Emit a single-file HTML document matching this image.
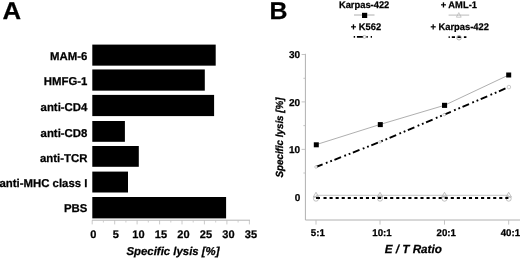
<!DOCTYPE html>
<html>
<head>
<meta charset="utf-8">
<title>Figure</title>
<style>
html,body{margin:0;padding:0;background:#fff;}
body{width:520px;height:259px;overflow:hidden;}
svg{display:block;will-change:transform;filter:blur(0.35px);}
text{font-family:"Liberation Sans",sans-serif;font-weight:bold;fill:#000;stroke:#000;stroke-width:0.25px;text-rendering:geometricPrecision;}
.pl{font-size:24.3px;}
.cat{font-size:11.4px;text-anchor:end;}
.tk{font-size:9.7px;text-anchor:middle;}
.tka{font-size:11px;text-anchor:middle;}
.tke{font-size:10px;text-anchor:end;}
.ax{font-size:11.4px;font-style:italic;text-anchor:middle;}
.lg{font-size:9.3px;text-anchor:middle;}
</style>
</head>
<body>
<svg width="520" height="259" viewBox="0 0 520 259">
<rect width="520" height="259" fill="#fff"/>
<!-- Panel A -->
<text class="pl" transform="translate(2.4 19.1) scale(1.06 1)">A</text>
<g fill="#000">
<rect x="92.3" y="44.60" width="123.4" height="21.05"/>
<rect x="92.3" y="69.45" width="112.5" height="21.20"/>
<rect x="92.3" y="94.90" width="121.8" height="21.20"/>
<rect x="92.3" y="121.00" width="32.6" height="20.80"/>
<rect x="92.3" y="146.00" width="46.5" height="20.80"/>
<rect x="92.3" y="171.60" width="35.7" height="20.90"/>
<rect x="92.3" y="197.00" width="133.8" height="21.40"/>
</g>
<text class="cat" x="87.4" y="60.1">MAM-6</text>
<text class="cat" x="87.4" y="85.4">HMFG-1</text>
<text class="cat" x="87.4" y="111.2">anti-CD4</text>
<text class="cat" x="87.4" y="136.6">anti-CD8</text>
<text class="cat" x="87.4" y="161.5">anti-TCR</text>
<text class="cat" x="87.4" y="186.6">anti-MHC class I</text>
<text class="cat" x="87.4" y="212">PBS</text>
<g fill="none">
<path d="M92 220.2H250" stroke="#b4b4b4" stroke-width="1"/>
<path d="M92.2 220.2v4.2 M114.7 220.2v4.2 M137.1 220.2v4.2 M159.6 220.2v4.2 M182.0 220.2v4.2 M204.4 220.2v4.2 M226.9 220.2v4.2 M249.4 220.2v4.2" stroke="#bcbcbc" stroke-width="0.8"/>
<path d="M103.4 220.2v2.3 M125.9 220.2v2.3 M148.3 220.2v2.3 M170.8 220.2v2.3 M193.2 220.2v2.3 M215.7 220.2v2.3 M238.1 220.2v2.3" stroke="#c4c4c4" stroke-width="0.8"/>
</g>
<text class="tka" x="93.4" y="238.4">0</text>
<text class="tka" x="115.9" y="238.4">5</text>
<text class="tka" x="138.4" y="238.4">10</text>
<text class="tka" x="160.9" y="238.4">15</text>
<text class="tka" x="183.4" y="238.4">20</text>
<text class="tka" x="205.9" y="238.4">25</text>
<text class="tka" x="228.4" y="238.4">30</text>
<text class="tka" x="250.9" y="238.4">35</text>
<text class="ax" x="173" y="255">Specific lysis [%]</text>

<!-- Panel B -->
<text class="pl" transform="translate(269.4 19) scale(1.025 1)">B</text>
<!-- legend -->
<text class="lg" transform="translate(364.1 8.1) scale(0.975 1)" style="font-size:9.6px">Karpas-422</text>
<text class="lg" transform="translate(458.8 8.1) scale(0.975 1)" style="font-size:9.6px">+ AML-1</text>
<text class="lg" transform="translate(366 30.1) scale(0.975 1)" style="font-size:9.6px">+ K562</text>
<text class="lg" transform="translate(459.7 30.1) scale(0.975 1)" style="font-size:9.6px">+ Karpas-422</text>
<path d="M354 15H374.5" stroke="#999" stroke-width="0.8"/>
<rect x="362" y="12.8" width="5.2" height="5.2" fill="#000"/>
<path d="M448.6 15.1H469.2" stroke="#aaa" stroke-width="0.8"/>
<path d="M458.8 12.6L461.2 17.2H456.4Z" fill="none" stroke="#aaa" stroke-width="0.6"/>
<path d="M353.7 36.9h1.4M356.9 36.9h7.5M366.4 36.9h1.4M370.7 36.9h1.3" stroke="#000" stroke-width="1.6"/>
<circle cx="364.4" cy="36.9" r="1.5" fill="#fff" stroke="#999" stroke-width="0.6"/>
<path d="M448.6 37.1h1.2M451.8 37.1h3.2M457.4 37.1h3.5M463.9 37.1h2.5" stroke="#000" stroke-width="1.6"/>
<circle cx="459" cy="37.7" r="2.3" fill="none" stroke="#999" stroke-width="0.7"/>
<!-- axes -->
<g stroke="#b0b0b0" stroke-width="1" fill="none">
<path d="M305.4 53.8V220H520"/>
</g>
<g stroke="#bdbdbd" stroke-width="0.9" fill="none">
<path d="M301.6 54.5h3.8M301.6 101.9h3.8M301.6 149.4h3.8"/>
<path d="M303.4 78.3h2M303.4 125.6h2M303.4 173h2"/>
<path d="M316 220v4.6M380 220v4.6M444.5 220v4.6M508.7 220v4.6"/>
</g>
<text class="tke" x="300.2" y="58.4">30</text>
<text class="tke" x="300.2" y="105.7">20</text>
<text class="tke" x="300.2" y="153.2">10</text>
<text class="tke" x="300.2" y="201.2">0</text>
<text class="tk" x="317.8" y="235.9">5:1</text>
<text class="tk" x="382" y="235.9">10:1</text>
<text class="tk" x="446.3" y="235.9">20:1</text>
<text class="tk" x="510.4" y="235.9">40:1</text>
<text class="ax" style="font-size:11.7px" x="413.3" y="253.2">E / T Ratio</text>
<text class="ax" style="font-size:10.3px;stroke-width:0.3px" transform="translate(282.8 137.5) rotate(-90) scale(0.952 1)">Specific lysis [%]</text>
<!-- series -->
<path d="M316.3 144.6L380.3 124.4L444.5 105.3L508.7 75" stroke="#a0a0a0" stroke-width="0.85" fill="none"/>
<g fill="#000">
<rect x="313.8" y="142.3" width="5" height="5"/>
<rect x="377.8" y="122.1" width="5" height="5"/>
<rect x="442" y="102.8" width="5.1" height="5.1"/>
<rect x="506.2" y="72.5" width="5" height="5"/>
</g>
<path d="M316 167L380 141.9L444.3 114.6L508.7 87.1" stroke="#000" stroke-width="1.9" fill="none" stroke-dasharray="7.1 3.5 1.8 2.9 1.8 2.7"/>
<g fill="#fff" stroke="#aaa" stroke-width="0.6">
<circle cx="316" cy="167" r="1.3"/><circle cx="380" cy="141.9" r="1.3"/><circle cx="444.3" cy="114.6" r="1.3"/><circle cx="508.9" cy="87.1" r="1.8"/>
</g>
<g fill="none" stroke="#a8a8a8" stroke-width="0.7">
<path d="M316 192.3L318.8 197.1H313.2Z"/><path d="M380 192.3L382.8 197.1H377.2Z"/><path d="M444.5 192.3L447.3 197.1H441.7Z"/><path d="M508.7 192.3L511.5 197.1H505.9Z"/>
<circle cx="316" cy="198.7" r="2.5"/><circle cx="380" cy="198.7" r="2.5"/><circle cx="444.5" cy="198.7" r="2.5"/><circle cx="508.7" cy="198.7" r="2.5"/>
</g>
<path d="M316 195.3H508.7" stroke="#b4b4b4" stroke-width="0.8"/>
<path d="M316 198H320" stroke="#000" stroke-width="1.9"/><path d="M323.5 198H508.7" stroke="#000" stroke-width="1.9" stroke-dasharray="3.1 2.96"/>
</svg>
</body>
</html>
